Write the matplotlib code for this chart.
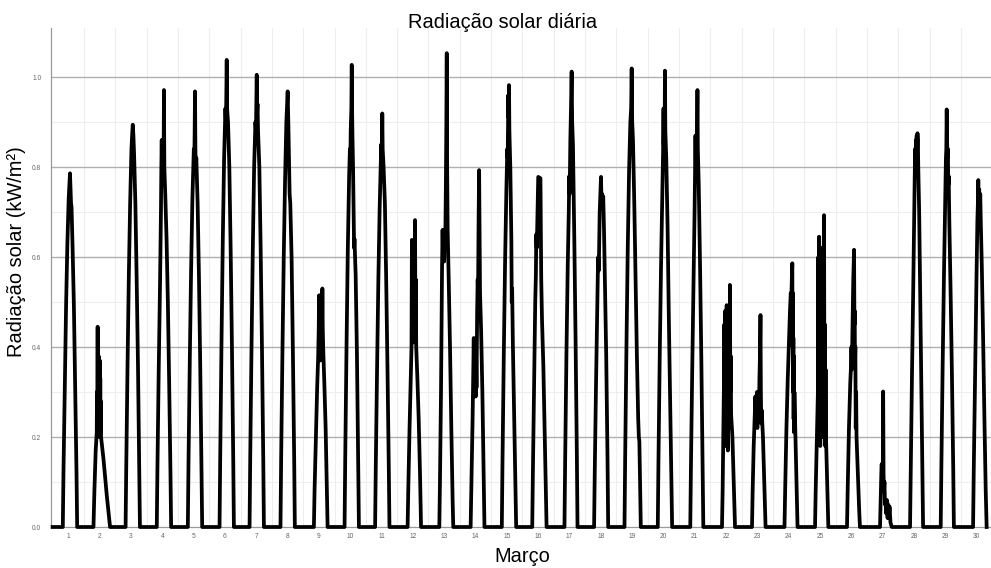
import numpy as np
import matplotlib
matplotlib.use("Agg")
import matplotlib.pyplot as plt

# ---- data: (hour of day, kW/m2) vertices, one list per day of March ----
DIA_01 = [(7.8,0),(8.3,.12),(9.3,.31),(10.3,.49),(11.3,.63),(12.3,.73),(13.3,.786),(13.8,.74),(14.1,.72),(14.5,.71),(15.3,.62),(16.3,.49),(17.3,.31),(18.3,.12),(18.8,0)]
DIA_02 = [(7.3,0),(8.0,.08),(9.0,.17),(9.8,.21),(10.0,.30),(10.2,.22),(10.5,.445),(10.7,.24),(10.9,.36),(11.1,.21),(11.3,.38),(11.5,.23),(11.7,.34),(11.9,.20),(12.1,.37),(12.3,.22),(12.5,.33),(12.7,.21),(12.9,.28),(13.1,.20),(15.0,.15),(17.5,.07),(20.0,0)]
DIA_03 = [(7.9,0),(8.4,.13),(9.4,.36),(10.4,.56),(11.4,.72),(12.4,.84),(12.9,.87),(13.4,.894),(13.9,.87),(14.4,.83),(15.4,.72),(16.4,.55),(17.4,.36),(18.4,.13),(18.9,0)]
DIA_04 = [(7.8,0),(8.3,.13),(9.3,.35),(10.3,.54),(11.0,.70),(11.3,.80),(11.6,.86),(11.9,.77),(12.2,.85),(12.5,.76),(12.8,.86),(13.0,.78),(13.3,.971),(13.6,.80),(14.3,.74),(15.3,.64),(16.3,.50),(17.3,.32),(18.3,.12),(18.8,0)]
DIA_05 = [(7.6,0),(8.1,.14),(9.1,.37),(10.1,.57),(11.1,.73),(11.8,.80),(12.2,.84),(12.5,.80),(12.8,.87),(13.1,.968),(13.4,.84),(13.7,.80),(14.1,.82),(15.1,.72),(16.1,.56),(17.1,.36),(18.1,.13),(18.6,0)]
DIA_06 = [(7.9,0),(8.4,.15),(9.4,.41),(10.4,.64),(11.4,.82),(12.4,.93),(12.8,.90),(13.1,.96),(13.4,1.038),(13.7,.93),(14.4,.90),(15.4,.80),(16.4,.62),(17.4,.40),(18.4,.15),(18.9,0)]
DIA_07 = [(6.9,0),(7.4,.15),(8.4,.40),(9.4,.62),(10.4,.80),(11.4,.90),(11.8,.88),(12.1,.95),(12.4,1.005),(12.7,.92),(13.0,.94),(13.4,.88),(14.4,.80),(15.4,.62),(16.4,.40),(17.4,.15),(17.9,0)]
DIA_08 = [(6.6,0),(7.1,.15),(8.1,.39),(9.1,.60),(10.1,.77),(11.1,.90),(12.1,.968),(12.6,.90),(13.1,.82),(13.6,.74),(14.1,.72),(15.1,.60),(16.1,.39),(17.1,.15),(17.6,0)]
DIA_09 = [(8.2,0),(8.7,.08),(9.7,.20),(10.7,.31),(11.5,.38),(11.9,.44),(12.2,.515),(12.5,.38),(12.8,.46),(13.1,.37),(13.4,.45),(13.7,.38),(14.0,.46),(14.3,.40),(14.7,.53),(15.0,.44),(15.3,.40),(16.2,.32),(17.2,.22),(18.2,.08),(18.7,0)]
DIA_10 = [(7.7,0),(8.2,.15),(9.2,.40),(10.2,.62),(11.2,.78),(11.8,.84),(12.1,.80),(12.4,.88),(12.9,.93),(13.2,1.027),(13.5,.92),(13.8,.86),(14.2,.80),(14.6,.70),(15.0,.62),(15.3,.64),(16.2,.56),(17.2,.38),(18.2,.14),(18.7,0)]
DIA_11 = [(7.1,0),(7.6,.13),(8.6,.35),(9.6,.55),(10.6,.71),(11.4,.80),(11.8,.85),(12.1,.81),(12.4,.86),(12.6,.919),(12.9,.84),(13.6,.80),(14.6,.72),(15.6,.55),(16.6,.35),(17.6,.13),(18.1,0)]
DIA_12 = [(8.0,0),(8.5,.08),(9.5,.22),(10.5,.34),(11.0,.40),(11.3,.638),(11.6,.45),(11.9,.60),(12.2,.41),(12.5,.56),(12.8,.43),(13.1,.62),(13.4,.48),(13.7,.682),(14.0,.44),(14.3,.55),(14.6,.40),(15.5,.33),(16.5,.24),(17.5,.12),(18.3,0)]
DIA_13 = [(8.3,0),(8.8,.10),(9.6,.30),(10.1,.48),(10.4,.58),(10.8,.66),(11.2,.60),(11.6,.66),(12.0,.59),(12.4,.65),(12.8,.62),(13.3,.75),(13.7,.90),(14.0,1.053),(14.3,.80),(14.7,.66),(15.5,.55),(16.5,.40),(17.5,.22),(18.5,.06),(19.0,0)]
DIA_14 = [(8.3,0),(8.8,.08),(9.8,.24),(10.4,.36),(10.7,.42),(11.0,.29),(11.3,.41),(11.6,.30),(11.9,.40),(12.2,.29),(12.5,.38),(12.8,.31),(13.3,.48),(13.7,.55),(14.0,.52),(14.4,.68),(14.8,.793),(15.1,.66),(15.5,.52),(16.3,.44),(17.3,.30),(18.3,.12),(18.9,0)]
DIA_15 = [(8.2,0),(8.7,.14),(9.7,.38),(10.7,.59),(11.7,.75),(12.4,.84),(12.7,.82),(13.0,.91),(13.2,.96),(13.4,.91),(13.7,.982),(14.0,.88),(14.7,.80),(15.5,.64),(15.8,.50),(16.1,.53),(16.7,.40),(17.7,.24),(18.7,.08),(19.2,0)]
DIA_16 = [(7.5,0),(8.0,.12),(9.0,.33),(9.8,.50),(10.3,.56),(10.6,.65),(11.0,.62),(11.6,.70),(12.1,.778),(13.8,.775),(14.1,.66),(14.4,.55),(14.7,.50),(15.0,.46),(16.0,.36),(17.0,.22),(18.0,.08),(18.5,0)]
DIA_17 = [(8.2,0),(8.7,.14),(9.7,.38),(10.7,.58),(11.5,.70),(11.9,.78),(12.2,.74),(12.7,.86),(13.2,.93),(13.7,1.012),(14.1,.90),(14.7,.85),(15.7,.65),(16.7,.42),(17.7,.16),(18.2,0)]
DIA_18 = [(6.9,0),(7.4,.12),(8.4,.32),(9.4,.50),(9.8,.57),(10.1,.60),(10.5,.57),(11.2,.70),(12.2,.778),(12.6,.72),(13.0,.74),(13.4,.71),(13.9,.735),(14.5,.66),(15.2,.55),(16.2,.38),(17.2,.15),(17.7,0)]
DIA_19 = [(6.2,0),(6.7,.15),(7.7,.40),(8.7,.62),(9.7,.79),(10.7,.90),(11.3,.93),(11.7,1.019),(12.1,.90),(12.7,.86),(13.7,.72),(14.7,.55),(15.7,.38),(16.7,.24),(17.2,.20),(17.6,.19),(18.2,.08),(18.7,0)]
DIA_20 = [(7.7,0),(8.2,.14),(9.2,.38),(10.2,.58),(11.2,.74),(11.8,.84),(12.1,.93),(12.3,.85),(12.5,.92),(12.7,.84),(13.0,.90),(13.2,1.014),(13.5,.88),(14.2,.82),(15.2,.67),(16.2,.46),(17.2,.28),(18.2,.10),(18.7,0)]
DIA_21 = [(8.6,0),(9.1,.13),(10.1,.35),(11.1,.54),(11.9,.70),(12.3,.79),(12.6,.87),(12.9,.80),(13.2,.86),(13.5,.79),(13.8,.87),(14.1,.971),(14.4,.84),(15.1,.76),(16.1,.58),(17.1,.37),(18.1,.13),(18.6,0)]
DIA_22 = [(8.9,0),(9.4,.08),(10.0,.22),(10.4,.32),(10.7,.45),(11.0,.22),(11.3,.48),(11.6,.18),(11.9,.44),(12.2,.25),(12.5,.493),(12.8,.20),(13.1,.40),(13.4,.17),(13.7,.45),(14.0,.24),(14.3,.42),(14.6,.22),(15.0,.538),(15.3,.30),(15.6,.38),(15.9,.25),(16.9,.20),(17.9,.10),(18.9,0)]
DIA_23 = [(7.9,0),(8.4,.08),(9.2,.18),(10.2,.27),(10.5,.29),(10.8,.23),(11.1,.29),(11.4,.24),(11.7,.30),(12.0,.22),(12.3,.28),(12.6,.24),(12.9,.30),(13.2,.25),(13.6,.33),(14.0,.38),(14.4,.471),(14.7,.30),(15.0,.23),(15.3,.26),(16.3,.20),(17.3,.10),(18.3,0)]
DIA_24 = [(8.8,0),(9.3,.08),(10.3,.22),(11.3,.33),(12.3,.42),(13.0,.48),(13.6,.52),(14.0,.50),(14.4,.55),(14.8,.586),(15.0,.40),(15.2,.52),(15.4,.30),(15.6,.42),(15.8,.24),(16.0,.38),(16.2,.21),(16.4,.30),(17.2,.20),(18.2,.08),(18.8,0)]
DIA_25 = [(8.2,0),(8.7,.08),(9.6,.20),(10.4,.30),(10.7,.60),(11.0,.20),(11.3,.645),(11.6,.25),(11.9,.55),(12.2,.18),(12.5,.50),(12.8,.22),(13.1,.62),(13.4,.30),(13.7,.58),(14.0,.20),(14.3,.45),(14.6,.25),(14.8,.60),(15.1,.693),(15.4,.30),(15.7,.45),(16.0,.18),(16.3,.35),(16.6,.20),(17.5,.10),(18.4,0)]
DIA_26 = [(8.7,0),(9.2,.08),(10.2,.22),(11.2,.32),(11.8,.36),(12.1,.40),(12.4,.35),(12.8,.42),(13.5,.55),(14.1,.616),(14.4,.45),(14.6,.48),(14.8,.36),(15.1,.40),(15.4,.22),(15.7,.30),(16.0,.20),(17.0,.12),(18.0,.04),(18.6,0)]
DIA_27 = [(10.0,0),(10.5,.06),(11.0,.12),(11.3,.14),(11.6,.10),(11.9,.14),(12.1,.11),(12.4,.301),(12.7,.12),(13.0,.08),(13.4,.10),(13.8,.05),(14.3,.06),(14.8,.03),(15.3,.06),(15.8,.02),(16.3,.05),(16.8,.02),(17.3,.045),(18.0,.01),(19.0,0)]
DIA_28 = [(9.0,0),(9.5,.12),(10.5,.34),(11.5,.54),(12.2,.70),(12.6,.78),(12.9,.84),(13.2,.80),(13.5,.86),(13.8,.82),(14.1,.87),(14.4,.83),(14.7,.875),(15.0,.86),(15.3,.80),(15.6,.76),(16.0,.70),(16.6,.56),(17.5,.36),(18.5,.12),(19.0,0)]
DIA_29 = [(8.5,0),(9.0,.13),(10.0,.36),(11.0,.56),(12.0,.74),(12.5,.82),(12.8,.84),(13.1,.928),(13.4,.86),(13.7,.82),(14.0,.84),(14.3,.76),(14.6,.78),(15.1,.68),(16.1,.52),(17.1,.34),(18.1,.13),(18.6,0)]
DIA_30 = [(9.3,0),(9.8,.12),(10.8,.33),(11.8,.53),(12.6,.68),(13.0,.72),(13.3,.771),(13.6,.72),(14.0,.75),(14.4,.70),(14.8,.74),(15.2,.68),(16.0,.58),(17.0,.42),(18.0,.24),(19.0,.08),(19.7,0)]

DAY_LABELS = [str(d) for d in range(1, 31)]
Y_TICKS = [0.0, 0.2, 0.4, 0.6, 0.8, 1.0]

TITLE = "Radiação solar diária"
XLABEL = "Março"
YLABEL = "Radiação solar (kW/m²)"

DIAS = [DIA_01, DIA_02, DIA_03, DIA_04, DIA_05, DIA_06, DIA_07, DIA_08, DIA_09, DIA_10,
        DIA_11, DIA_12, DIA_13, DIA_14, DIA_15, DIA_16, DIA_17, DIA_18, DIA_19, DIA_20,
        DIA_21, DIA_22, DIA_23, DIA_24, DIA_25, DIA_26, DIA_27, DIA_28, DIA_29, DIA_30]

# continuous time axis in days (day d covers [d-1, d))
t = [0.0]
v = [0.0]
for i, dia in enumerate(DIAS):
    for h, val in dia:
        t.append(i + h / 24.0)
        v.append(val)

plt.rcParams['font.family'] = ['Liberation Sans', 'DejaVu Sans']

W, H = 991, 568
fig = plt.figure(figsize=(W / 100, H / 100), dpi=100)
ax = fig.add_axes([51 / W, 1 - 527 / H, 1 - 51 / W, (527 - 28) / H])

ax.set_xlim(-0.052, 29.96)
ax.set_ylim(0, 499 / 450)

# grids
for y in [0.1, 0.3, 0.5, 0.7, 0.9]:
    ax.axhline(y, color='#eeeeee', lw=0.8, zorder=0)
for x in range(1, 30):
    ax.axvline(x, color='#eeeeee', lw=0.8, zorder=0)
for y in Y_TICKS[1:]:
    ax.axhline(y, color='#b0b0b0', lw=1.0, zorder=1)

ax.plot(t, v, color='black', lw=2.7, solid_joinstyle='round', zorder=3, clip_on=False)

ax.set_yticks(Y_TICKS)
ax.set_yticklabels([f"{y:.1f}" for y in Y_TICKS])
ax.set_xticks([d + 0.5 for d in range(30)])
ax.set_xticklabels(DAY_LABELS)
ax.tick_params(axis='both', length=0, labelsize=4.8, labelcolor='#666666')
ax.tick_params(axis='y', pad=7)
ax.tick_params(axis='x', pad=4)

for s in ['top', 'right']:
    ax.spines[s].set_visible(False)
ax.spines['left'].set_color('#999999')
ax.spines['bottom'].set_color('#999999')
ax.spines['left'].set_linewidth(0.9)
ax.spines['bottom'].set_linewidth(0.9)

fig.text(503 / W, 1 - 22 / H, TITLE, ha='center', va='center', fontsize=14.4)
fig.text(522 / W, 1 - 557 / H, XLABEL, ha='center', va='center', fontsize=14.4)
fig.text(17 / W, 1 - 252 / H, YLABEL, ha='center', va='center', rotation=90, fontsize=14.4)

fig.savefig("out.png", dpi=100)
